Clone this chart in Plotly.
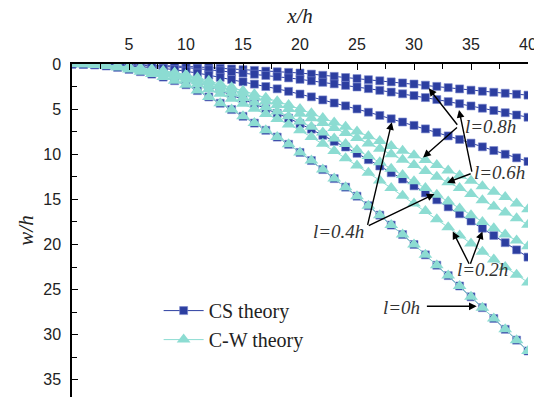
import plotly.graph_objects as go

x_h = list(range(0, 41))

# w/h values (x/h = 0..40)
l0_both = [0, 0.02, 0.1, 0.22, 0.38, 0.6, 0.85, 1.12, 1.45, 1.85, 2.3, 2.95, 3.65, 4.35, 5.05, 5.8,
           6.55, 7.35, 8.1, 8.9, 9.8, 10.7, 11.7, 12.7, 13.65, 14.65, 15.7, 16.75, 17.85, 18.9, 20.0,
           21.15, 22.3, 23.45, 24.6, 25.8, 27.0, 28.2, 29.4, 30.6, 31.8]

cs_02 = [0, 0.02, 0.07, 0.15, 0.26, 0.4, 0.57, 0.76, 0.98, 1.25, 1.55, 1.99, 2.46, 2.94, 3.41, 3.92,
         4.42, 4.96, 5.47, 6.0, 6.62, 7.22, 7.9, 8.57, 9.2, 9.9, 10.6, 11.3, 12.05, 12.75, 13.5,
         14.28, 15.05, 15.83, 16.6, 17.4, 18.2, 19.0, 19.8, 20.6, 21.4]
cs_04 = [0, 0.01, 0.03, 0.07, 0.13, 0.2, 0.29, 0.38, 0.49, 0.63, 0.78, 1.0, 1.24, 1.48, 1.72, 1.97,
         2.23, 2.5, 2.75, 3.03, 3.33, 3.64, 3.98, 4.32, 4.64, 4.98, 5.34, 5.7, 6.07, 6.43, 6.8,
         7.19, 7.58, 7.97, 8.36, 8.77, 9.18, 9.59, 10.0, 10.4, 10.8]
cs_06 = [0, 0, 0.02, 0.04, 0.07, 0.1, 0.15, 0.19, 0.25, 0.32, 0.4, 0.51, 0.63, 0.75, 0.87, 1.0,
         1.13, 1.27, 1.4, 1.54, 1.7, 1.86, 2.03, 2.2, 2.37, 2.55, 2.73, 2.92, 3.11, 3.3, 3.5,
         3.72, 3.94, 4.17, 4.4, 4.65, 4.9, 5.15, 5.4, 5.65, 5.9]
cs_08 = [0, 0, 0.01, 0.02, 0.04, 0.06, 0.09, 0.12, 0.16, 0.2, 0.25, 0.32, 0.4, 0.47, 0.55, 0.63,
         0.71, 0.79, 0.86, 0.93, 1.0, 1.12, 1.25, 1.37, 1.5, 1.62, 1.74, 1.86, 1.98, 2.1, 2.22,
         2.35, 2.48, 2.62, 2.76, 2.9, 3.02, 3.13, 3.24, 3.35, 3.45]

cw_02 = [0, 0.02, 0.08, 0.17, 0.29, 0.46, 0.65, 0.85, 1.1, 1.4, 1.75, 2.25, 2.8, 3.3, 3.85, 4.4,
         4.95, 5.55, 6.1, 6.7, 7.35, 8.1, 8.85, 9.65, 10.45, 11.25, 12.05, 12.9, 13.75, 14.6, 15.45,
         16.3, 17.2, 18.1, 19.0, 19.9, 20.8, 21.65, 22.5, 23.35, 24.2]
cw_04 = [0, 0.01, 0.07, 0.14, 0.25, 0.39, 0.55, 0.73, 0.94, 1.2, 1.5, 1.92, 2.37, 2.83, 3.28, 3.77,
         4.26, 4.78, 5.27, 5.8, 6.37, 6.95, 7.6, 8.25, 8.87, 9.52, 10.2, 10.9, 11.6, 12.3, 13.0,
         13.75, 14.5, 15.25, 16.0, 16.75, 17.5, 18.2, 18.9, 19.55, 20.2]
cw_06 = [0, 0.01, 0.06, 0.12, 0.21, 0.34, 0.48, 0.63, 0.81, 1.04, 1.29, 1.65, 2.04, 2.44, 2.83, 3.25,
         3.67, 4.12, 4.54, 5.0, 5.5, 6.0, 6.55, 7.1, 7.65, 8.2, 8.8, 9.4, 10.0, 10.6, 11.2,
         11.85, 12.5, 13.1, 13.75, 14.4, 15.1, 15.8, 16.45, 17.1, 17.8]
cw_08 = [0, 0.01, 0.05, 0.11, 0.19, 0.31, 0.43, 0.57, 0.74, 0.94, 1.17, 1.5, 1.86, 2.22, 2.58, 2.96,
         3.34, 3.75, 4.13, 4.54, 5.0, 5.45, 5.97, 6.48, 6.96, 7.47, 8.0, 8.54, 9.1, 9.6, 10.1,
         10.65, 11.2, 11.8, 12.35, 12.95, 13.55, 14.15, 14.75, 15.45, 16.1]

series_names = ["CS theory", "C-W theory"]
cs_series = [cs_08, cs_06, cs_04, cs_02, l0_both]
cw_series = [cw_08, cw_06, cw_04, cw_02, l0_both]

x_ticks = [0, 5, 10, 15, 20, 25, 30, 35, 40]
x_ticktext = ["", "5", "10", "15", "20", "25", "30", "35", "40"]
y_ticks = [0, 5, 10, 15, 20, 25, 30, 35]

CS_COLOR = "rgb(44,62,160)"
CW_COLOR = "rgb(140,220,210)"

fig = go.Figure()
for i, ys in enumerate(cs_series):
    fig.add_trace(go.Scatter(
        x=x_h, y=ys, mode="lines+markers", name=series_names[0],
        showlegend=(i == 0), legendrank=1,
        line=dict(color=CS_COLOR, width=1),
        marker=dict(symbol="square", size=8, color=CS_COLOR,
                    line=dict(width=0.6, color="rgb(120,135,205)")),
    ))
for i, ys in enumerate(cw_series):
    fig.add_trace(go.Scatter(
        x=x_h, y=ys, mode="lines+markers", name=series_names[1],
        showlegend=(i == 0), legendrank=2,
        line=dict(color=CW_COLOR, width=1),
        marker=dict(symbol="triangle-up", size=12, color=CW_COLOR, line=dict(width=0)),
    ))

# labels and arrows (tail -> head, data coordinates)
labels = [
    ("l=0.8h", 36.7, 6.95),
    ("l=0.6h", 37.5, 12.0),
    ("l=0.4h", 23.4, 18.6),
    ("l=0.2h", 36.0, 22.8),
    ("l=0h", 28.9, 27.0),
]
arrows = [
    (33.9, 6.9, 31.3, 2.7),
    (33.9, 6.9, 30.8, 10.35),
    (35.1, 12.1, 33.95, 5.1),
    (35.1, 12.1, 32.9, 13.15),
    (25.9, 18.0, 28.05, 6.45),
    (25.9, 18.0, 31.8, 14.4),
    (34.9, 22.3, 33.4, 18.55),
    (34.9, 22.3, 36.0, 18.55),
    (31.0, 26.85, 35.5, 26.85),
]
for t, xx, yy in labels:
    fig.add_annotation(x=xx, y=yy, text="<i>" + t + "</i>", showarrow=False,
                       font=dict(family="Liberation Serif", size=19, color="#333333"),
                       xanchor="center", yanchor="middle")

for ax_, ay_, hx, hy in arrows:
    fig.add_annotation(x=hx, y=hy, ax=ax_, ay=ay_, axref="x", ayref="y",
                       text="", showarrow=True, arrowhead=2, arrowsize=1.1,
                       arrowwidth=1.4, arrowcolor="black", standoff=0, startstandoff=0)

fig.update_layout(
    width=534, height=402,
    margin=dict(l=72, r=6, t=64, b=5, autoexpand=False),
    paper_bgcolor="white", plot_bgcolor="white",
    font=dict(family="Liberation Sans", size=16, color="#222222"),
    legend=dict(x=0.19, y=0.318, xanchor="left", yanchor="top",
                bgcolor="rgba(0,0,0,0)",
                font=dict(family="Liberation Serif", size=20, color="#222222"),
                tracegroupgap=0, itemwidth=40),
    xaxis=dict(
        side="top", range=[0, 40], tickmode="array", tickvals=x_ticks, ticktext=x_ticktext,
        automargin=False,
        ticks="inside", ticklen=6, tickwidth=1.2, tickcolor="black",
        showline=True, linecolor="black", linewidth=1.5, showgrid=False, zeroline=False,
        minor=dict(tickmode="linear", tick0=0, dtick=2.5, ticks="inside", ticklen=5,
                   tickwidth=1.2, tickcolor="black", showgrid=False),
        tickfont=dict(family="Liberation Sans", size=16, color="#222222"),
        ticklabelstandoff=6, ticklabeloverflow="allow",
        title=dict(text="<i>x/h</i>", font=dict(family="Liberation Serif", size=21, color="#222222"),
                   standoff=6),
    ),
    yaxis=dict(
        range=[36.9, 0], tickmode="array", tickvals=y_ticks,
        automargin=False,
        ticks="inside", ticklen=6, tickwidth=1.2, tickcolor="black",
        showline=True, linecolor="black", linewidth=1.5, showgrid=False, zeroline=False,
        minor=dict(tickmode="linear", tick0=0, dtick=2.5, ticks="inside", ticklen=5,
                   tickwidth=1.2, tickcolor="black", showgrid=False),
        tickfont=dict(family="Liberation Sans", size=16, color="#222222"),
        ticklabelstandoff=6, ticklabeloverflow="allow",
        title=dict(text="<i>w/h</i>", font=dict(family="Liberation Serif", size=21, color="#222222"),
                   standoff=4),
    ),
)

fig.write_html("out.html", config={"displayModeBar": False},
               post_script="document.body.style.margin='0';document.body.style.padding='0';")
